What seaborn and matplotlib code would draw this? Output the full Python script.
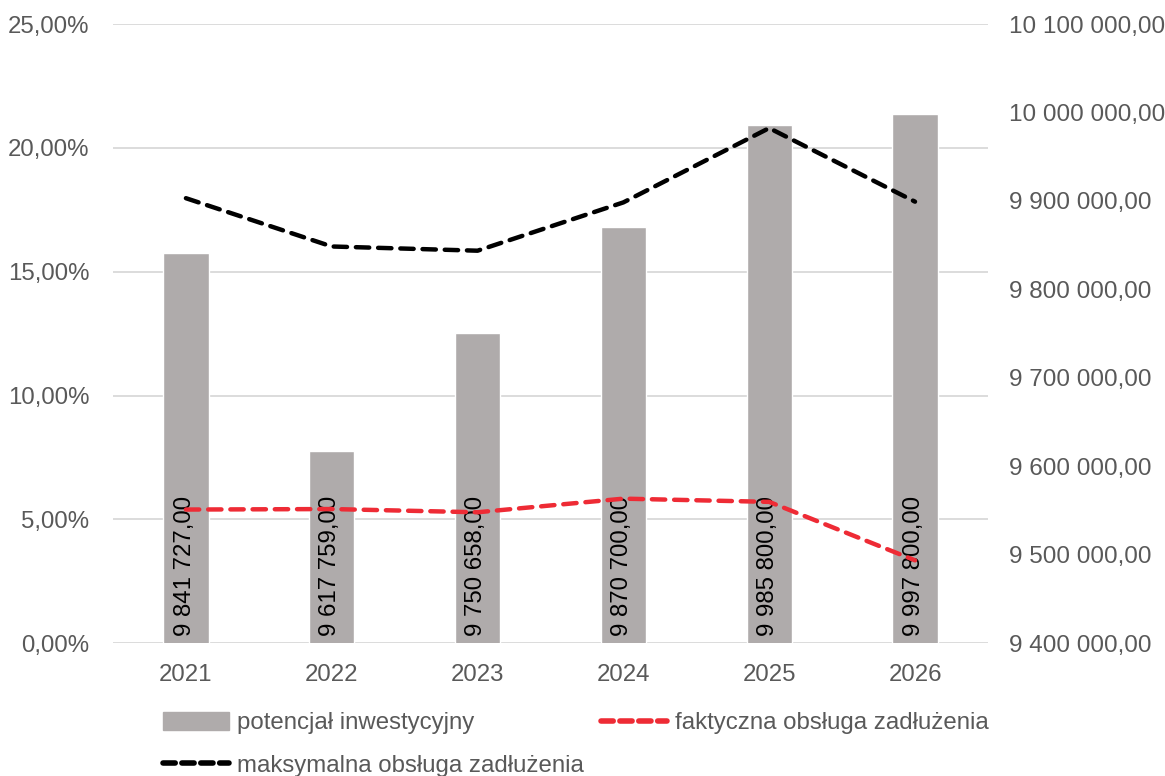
import numpy as np
import pandas as pd
import matplotlib
matplotlib.use("Agg")
import matplotlib.pyplot as plt
import seaborn as sns
from matplotlib.ticker import FuncFormatter
from matplotlib.lines import Line2D
from matplotlib.patches import Patch

# Data ------------------------------------------------------------------------
years = ["2021", "2022", "2023", "2024", "2025", "2026"]
potencjal = [9841727.00, 9617759.00, 9750658.00, 9870700.00, 9985800.00, 9997800.00]
faktyczna = [5.40, 5.42, 5.29, 5.84, 5.71, 3.35]     # %
maksymalna = [17.97, 16.02, 15.85, 17.80, 20.80, 17.83]  # %

bar_labels = ["9 841 727,00", "9 617 759,00", "9 750 658,00",
              "9 870 700,00", "9 985 800,00", "9 997 800,00"]

df = pd.DataFrame({"rok": years, "potencjal": potencjal,
                   "faktyczna": faktyczna, "maksymalna": maksymalna})

sns.set_theme(style="white")
plt.rcParams["font.family"] = ["Liberation Sans", "DejaVu Sans"]

TXT = "#595959"
GRID = "#D9D9D9"
BAR = "#AFABAB"
RED = "#EE2B35"
FS = 17.3


def pl_money(v, pos=None):
    return "{:,.2f}".format(v).replace(",", " ").replace(".", ",")


def pl_pct(v, pos=None):
    return "{:.2f}%".format(v).replace(".", ",")


fig = plt.figure(figsize=(11.65, 7.76), dpi=100)
ax = fig.add_axes([0.097, 0.171, 0.751, 0.798])   # bars, scale on the right
ax2 = ax.twinx()                                    # lines, scale on the left

# bars -------------------------------------------------------------------------
sns.barplot(data=df, x="rok", y="potencjal", color=BAR, width=0.31,
            saturation=1, ax=ax)
ax.set_ylim(9400000, 10100000)
ax.yaxis.tick_right()
ax.yaxis.set_label_position("right")
ax.yaxis.set_major_formatter(FuncFormatter(pl_money))
ax.set_yticks(np.arange(9400000, 10100001, 100000))

for p, lab in zip(ax.patches, bar_labels):
    ax.annotate(lab, (p.get_x() + p.get_width() / 2, 9400000),
                xytext=(-1, 5), textcoords="offset points",
                rotation=90, ha="center", va="bottom",
                fontsize=FS, color="black", zorder=5)

# grid from the left (percent) scale, kept behind the bars
for v in np.arange(0, 25.1, 5):
    ax.axhline(9400000 + v / 25 * 700000, color=GRID, lw=1.3, zorder=0)

# lines ------------------------------------------------------------------------
sns.lineplot(data=df, x="rok", y="maksymalna", color="black", lw=3.2,
             ax=ax2, sort=False)
sns.lineplot(data=df, x="rok", y="faktyczna", color=RED, lw=3.2,
             ax=ax2, sort=False)
for ln in ax2.lines:
    ln.set_dashes((3, 2))
    ln.set_dash_capstyle("round")
ax2.set_ylim(0, 25)
ax2.set_yticks(np.arange(0, 25.1, 5))
ax2.yaxis.tick_left()
ax2.yaxis.set_label_position("left")
ax2.yaxis.set_major_formatter(FuncFormatter(pl_pct))

for a in (ax, ax2):
    a.set_xlabel("")
    a.set_ylabel("")
    for s in a.spines.values():
        s.set_visible(False)
    a.tick_params(axis="both", length=0, labelsize=FS, labelcolor=TXT)
ax.tick_params(axis="y", pad=15, labelsize=17.5)
ax2.tick_params(axis="y", pad=17)
ax.tick_params(axis="x", pad=15)
ax.set_xlim(-0.5, 5.5)

# legend -----------------------------------------------------------------------
handles = [Patch(color=BAR),
           Line2D([], [], color="black", lw=4, dashes=(2.2, 1.2), dash_capstyle="round"),
           Line2D([], [], color=RED, lw=4, dashes=(2.2, 1.2), dash_capstyle="round")]
labels = ["potencjał inwestycyjny", "maksymalna obsługa zadłużenia",
          "faktyczna obsługa zadłużenia"]
leg = fig.legend(handles, labels, ncol=2, loc="upper left",
                 bbox_to_anchor=(0.132, 0.095), frameon=False, fontsize=FS,
                 handlelength=2.75, handleheight=0.8, handletextpad=0.33,
                 columnspacing=0.7, labelspacing=0.84, borderaxespad=0)
for t in leg.get_texts():
    t.set_color(TXT)

fig.savefig("out.png", dpi=100)
